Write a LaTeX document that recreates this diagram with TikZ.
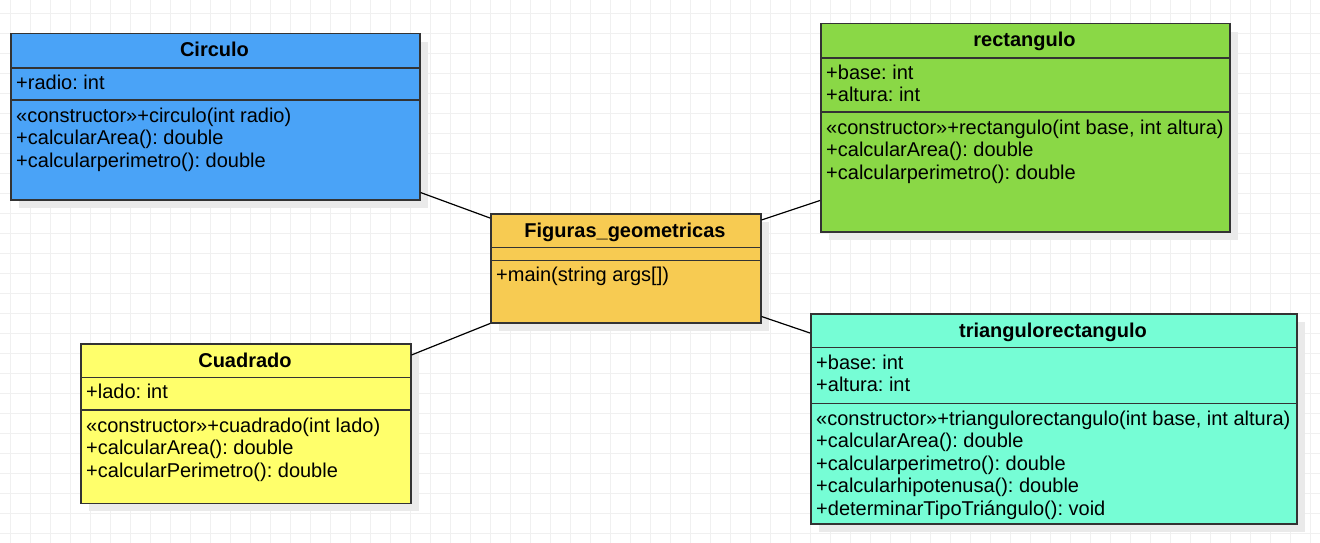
\documentclass[tikz,border=0pt]{standalone}
\usepackage{fontspec}
\setmainfont{Liberation Sans}
\usetikzlibrary{shadows}
\frenchspacing
\definecolor{cblue}{RGB}{74,163,247}
\definecolor{cgreen}{RGB}{138,216,70}
\definecolor{corange}{RGB}{247,203,82}
\definecolor{cyellow}{RGB}{255,255,107}
\definecolor{cmint}{RGB}{118,253,213}
\definecolor{cborder}{RGB}{51,51,51}
\definecolor{cgrid}{RGB}{240,240,240}
\definecolor{cshadow}{RGB}{234,234,234}
\tikzset{
  classbox/.style={draw=cborder, line width=1.5pt, rectangle, inner sep=0pt, anchor=north west,
    drop shadow={shadow xshift=8pt, shadow yshift=-8pt, fill=cshadow, opacity=1}},
  title/.style={anchor=base, inner sep=0pt, font=\fontsize{20}{22.5}\selectfont\bfseries},
  member/.style={anchor=base west, inner sep=0pt, font=\fontsize{20}{22.5}\selectfont\frenchspacing},
  divider/.style={draw=cborder, line width=1.5pt},
  link/.style={draw=black, line width=1.2pt}
}
\begin{document}
\begin{tikzpicture}[x=1pt, y=-1pt]
\useasboundingbox (0,0) rectangle (1320,543);
\fill[white] (0,0) rectangle (1320,543);
% grid
\foreach \gx in {10,30,...,1310} \draw[cgrid, line width=1pt] (\gx,0) -- (\gx,543);
\foreach \gy in {13.3,33.3,...,543} \draw[cgrid, line width=1pt] (0,\gy) -- (1320,\gy);

% ---------- Circulo
\node[classbox, fill=cblue, minimum width=409pt, minimum height=166pt] (circ) at (10,33) {};
\draw[divider] (circ.west |- 0,68) -- (circ.east |- 0,68);
\draw[divider] (circ.west |- 0,100) -- (circ.east |- 0,100);
\node[title] (circt) at (214.5,57) {Circulo};
\node[member] (circa1) at (16,89) {+radio: int};
\node[member] (circm1) at (16,122) {«constructor»+circulo(int radio)};
\node[member] (circm2) at (16,144.5) {+calcularArea(): double};
\node[member] (circm3) at (16,167) {+calcularperimetro(): double};

% ---------- rectangulo
\node[classbox, fill=cgreen, minimum width=409pt, minimum height=208pt] (rect) at (820,23) {};
\draw[divider] (rect.west |- 0,58) -- (rect.east |- 0,58);
\draw[divider] (rect.west |- 0,112) -- (rect.east |- 0,112);
\node[title] (rectt) at (1024.5,47) {rectangulo};
\node[member] (recta1) at (826,79) {+base: int};
\node[member] (recta2) at (826,101.5) {+altura: int};
\node[member] (rectm1) at (826,134) {«constructor»+rectangulo(int base, int altura)};
\node[member] (rectm2) at (826,156.5) {+calcularArea(): double};
\node[member] (rectm3) at (826,179) {+calcularperimetro(): double};

% ---------- Figuras_geometricas
\node[classbox, fill=corange, minimum width=270pt, minimum height=109pt] (fig) at (490,213) {};
\draw[divider] (fig.west |- 0,247.7) -- (fig.east |- 0,247.7);
\draw[divider] (fig.west |- 0,260.3) -- (fig.east |- 0,260.3);
\node[title] (figt) at (625,237) {Figuras\_geometricas};
\node[member] (figm1) at (496,281.7) {+main(string args[])};

% ---------- Cuadrado
\node[classbox, fill=cyellow, minimum width=330pt, minimum height=159.5pt] (cuad) at (80,343) {};
\draw[divider] (cuad.west |- 0,377.7) -- (cuad.east |- 0,377.7);
\draw[divider] (cuad.west |- 0,410) -- (cuad.east |- 0,410);
\node[title] (cuadt) at (245,367) {Cuadrado};
\node[member] (cuada1) at (86,398.5) {+lado: int};
\node[member] (cuadm1) at (86,432) {«constructor»+cuadrado(int lado)};
\node[member] (cuadm2) at (86,454.5) {+calcularArea(): double};
\node[member] (cuadm3) at (86,477) {+calcularPerimetro(): double};

% ---------- triangulorectangulo
\node[classbox, fill=cmint, minimum width=486pt, minimum height=210pt] (tri) at (810,313) {};
\draw[divider] (tri.west |- 0,347.7) -- (tri.east |- 0,347.7);
\draw[divider] (tri.west |- 0,403.3) -- (tri.east |- 0,403.3);
\node[title] (trit) at (1053,337) {triangulorectangulo};
\node[member] (tria1) at (816,369) {+base: int};
\node[member] (tria2) at (816,391.5) {+altura: int};
\node[member] (trim1) at (816,425) {«constructor»+triangulorectangulo(int base, int altura)};
\node[member] (trim2) at (816,447.5) {+calcularArea(): double};
\node[member] (trim3) at (816,470) {+calcularperimetro(): double};
\node[member] (trim4) at (816,492.5) {+calcularhipotenusa(): double};
\node[member] (trim5) at (816,515) {+determinarTipoTriángulo(): void};

% ---------- connectors
\draw[link] ([yshift=8pt]circ.south east) -- ([yshift=-5pt]fig.north west);
\draw[link] ([yshift=-7pt]fig.north east) -- ([yshift=32pt]rect.south west);
\draw[link] ([yshift=-12pt]cuad.north east) -- (fig.south west);
\draw[link] ([yshift=7pt]fig.south east) -- ([yshift=-20pt]tri.north west);
\end{tikzpicture}
\end{document}
